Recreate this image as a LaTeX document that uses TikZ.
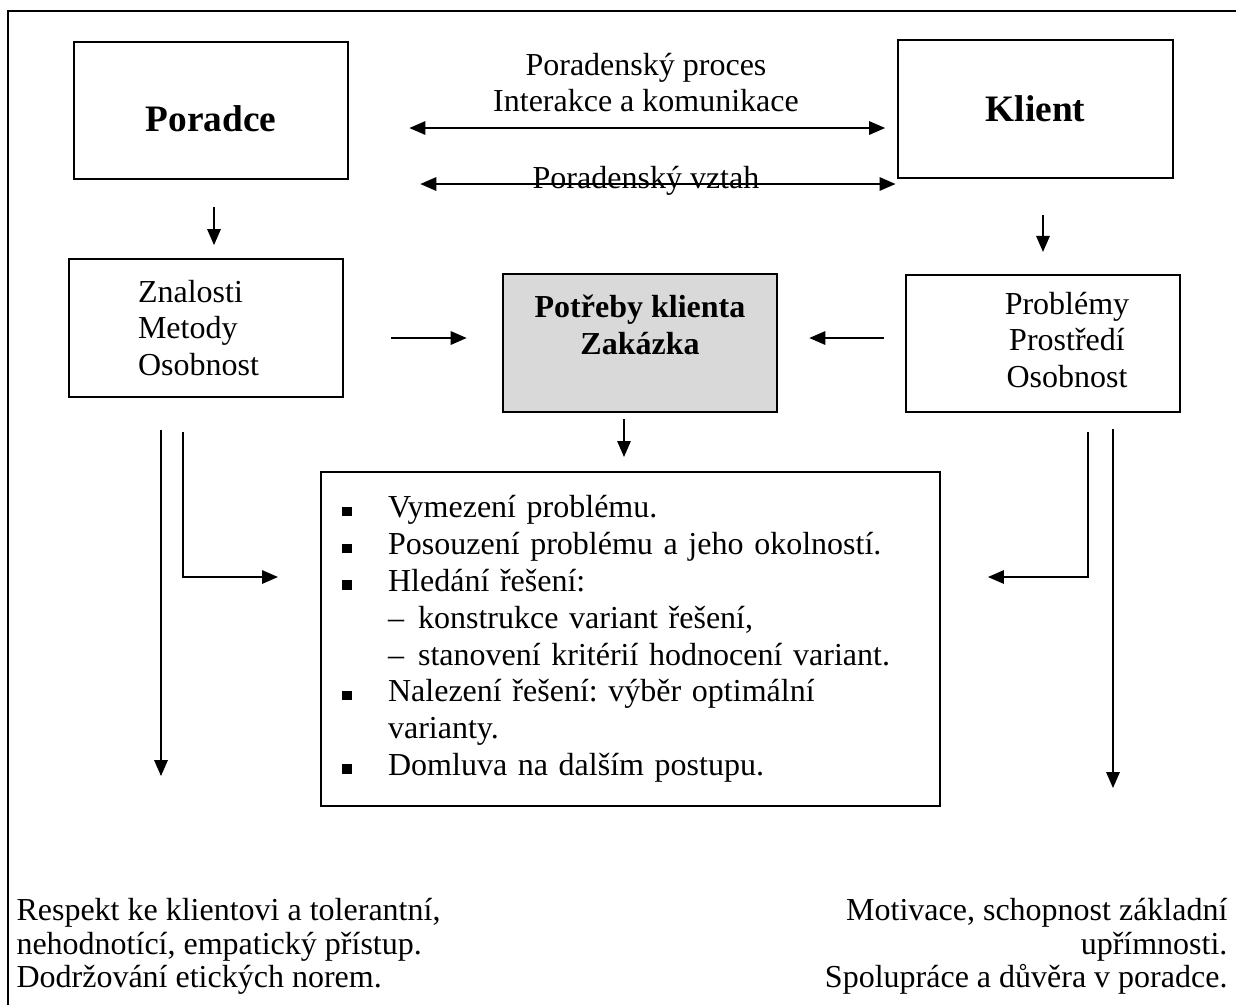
\documentclass[tikz,border=0pt]{standalone}
\usepackage{fontspec}
\setmainfont{Liberation Serif}
\frenchspacing
\colorlet{VyplnPotreby}{black!15}
\usetikzlibrary{arrows.meta, calc}

\newcommand{\odrazka}{\makebox[17.25pt][l]{\rule[0.6pt]{3.6pt}{3.6pt}}}
\newcommand{\pomlcka}{\makebox[11.25pt][l]{--}}

\begin{document}
\begin{tikzpicture}[x=0.375pt, y=-0.375pt,
    >={Triangle[length=6pt,width=5pt]},
    ramecek/.style={line width=1.1pt},
    krabice/.style={draw, line width=0.75pt, inner sep=0pt, align=center,
        minimum width=103pt, minimum height=51.4pt,
        font=\fontsize{12}{13.8}\selectfont},
    hlavni/.style={krabice, font=\fontsize{14}{16}\selectfont\bfseries},
    popis/.style={inner sep=0pt, font=\fontsize{12}{13.8}\selectfont},
    sipka/.style={line width=0.75pt, ->},
    obousipka/.style={line width=0.75pt, <->}]

\useasboundingbox (0,0) rectangle (1236,1005);
\draw[ramecek] (8,1005) -- (8,11) -- (1236,11);

\node[hlavni, text height=16pt] (poradce) at (211,110.5) {Poradce};
\node[hlavni] (klient) at (1035.5,109) {Klient};
\node[popis, align=center] (proces) at (646,82.5) {Poradenský proces\\Interakce a komunikace};
\node[popis, anchor=base] (vztah) at (646,188) {Poradenský vztah};

\node[krabice, align=left, text width=51pt, inner xsep=25.9pt] (znalosti) at (206,328) {Znalosti\\Metody\\Osobnost};
\node[krabice, fill=VyplnPotreby, font=\fontsize{12}{13.8}\selectfont\bfseries] (potreby) at (640,343) {Potřeby klienta\\Zakázka\\\mbox{}};
\node[krabice] (problemy) at (1043,343.5)
    {\begin{tabular}{@{\hspace{18pt}}c@{}}Problémy\\Prostředí\\Osobnost\end{tabular}};

\node[krabice, align=left, text width=216.3pt, inner xsep=7.9pt,
    minimum width=232.1pt, minimum height=125.25pt] (seznam) at (630.5,639) {%
    \odrazka Vymezení problému.\\
    \odrazka Posouzení problému a jeho okolností.\\
    \odrazka Hledání řešení:\\
    \hspace*{17.25pt}\pomlcka konstrukce variant řešení,\\
    \hspace*{17.25pt}\pomlcka stanovení kritérií hodnocení variant.\\
    \odrazka Nalezení řešení: výběr optimální\\
    \hspace*{17.25pt}varianty.\\
    \odrazka Domluva na dalším postupu.};

\node[popis, align=left, anchor=north west, font=\fontsize{12}{12.5}\selectfont] (respekt) at (16,898)
    {Respekt ke klientovi a tolerantní,\\nehodnotící, empatický přístup.\\Dodržování etických norem.};
\node[popis, align=right, anchor=north east, font=\fontsize{12}{12.5}\selectfont] (motivace) at (1228,898)
    {Motivace, schopnost základní\\upřímnosti.\\Spolupráce a důvěra v poradce.};

\coordinate (U) at (646,128);
\coordinate (V) at (646,184);
\coordinate (S) at (640,338);
\coordinate (H) at (630,577);
\coordinate (P) at (214,0);
\coordinate (K) at (624,0);
\coordinate (L) at (161,0);
\coordinate (M) at (183,0);
\coordinate (Q) at (1088,0);
\coordinate (R) at (1113,0);

\draw[obousipka, shorten <=22.5pt, shorten >=4.5pt] (poradce.east |- U) -- (klient.west |- U);
\draw[obousipka, shorten <=26.6pt, shorten >=0.6pt] (poradce.east |- V) -- (klient.west |- V);
\draw[sipka, shorten <=10pt, shorten >=5pt] (P |- poradce.south) -- (P |- znalosti.north);
\draw[sipka, shorten <=13.5pt, shorten >=8.25pt] (klient.south -| problemy.north) -- (problemy.north);
\draw[sipka, shorten <=17.6pt, shorten >=13.1pt] (znalosti.east |- S) -- (potreby.west |- S);
\draw[sipka, shorten <=7.9pt, shorten >=11.6pt] (problemy.west |- S) -- (potreby.east |- S);
\draw[sipka, shorten <=2.6pt, shorten >=5.25pt] (K |- potreby.south) -- (K |- seznam.north);
\draw[sipka, shorten <=12pt, shorten >=11.6pt] (L |- znalosti.south) -- (L |- seznam.south);
\draw[sipka, shorten <=13pt, shorten >=15.75pt] (M |- znalosti.south) |- (seznam.west |- H);
\draw[sipka, shorten <=7.1pt, shorten >=17.6pt] (Q |- problemy.south) |- (seznam.east |- H);
\draw[sipka, shorten <=6pt, shorten >=7.1pt] (R |- problemy.south) -- (R |- seznam.south);

\end{tikzpicture}
\end{document}
